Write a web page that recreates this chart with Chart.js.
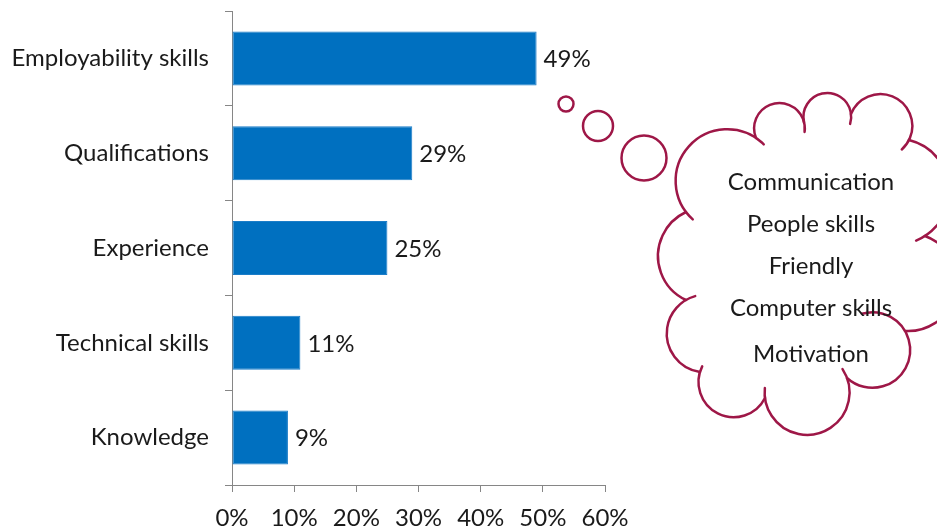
<!DOCTYPE html>
<html>
<head>
<meta charset="utf-8">
<script src="https://cdn.jsdelivr.net/npm/chart.js@4"></script>
<style>
  html, body { margin: 0; padding: 0; background: #fff; }
  canvas { display: block; }
</style>
</head>
<body>
<canvas id="skillsChart" width="937" height="531"></canvas>
<script>
// What employers look for
const categories = ["Employability skills", "Qualifications", "Experience", "Technical skills", "Knowledge"];
const shares = [49, 29, 25, 11, 9];
const tickValues = [0, 10, 20, 30, 40, 50, 60];
const thoughts = ["Communication", "People skills", "Friendly", "Computer skills", "Motivation"];

const fontFamily = "Lato";
const fontSize = 24;
const axisGrey = "#868686";
const textColor = "#1a1a1a";
const cloudColor = "#9e1747";

// cloud outline: junction points, how far each bump swells out,
// and how far each arc runs past its start / end (the little hooks)
const cloudPoints = [
  [686, 212], [756, 138], [804, 122], [851, 114], [909, 140], [925, 236],
  [905, 331], [847, 378], [765, 398], [700, 372], [686, 300]
];
const cloudBulge = [43, 27, 25, 33, 32, 42, 32, 47, 32, 26, 28];
const cloudHooks = [
  [10, 10], [0, 10], [0, 10], [0, 12], [0, 10], [0, 0],
  [50, 0], [10, 10], [0, 6], [0, 10], [0, 0]
];
const bubbles = [[566, 104, 7.5], [598, 126, 15], [644, 158, 22.5]];

function bump(ctx, a, b, h, extStart, extEnd) {
  const dx = b[0] - a[0], dy = b[1] - a[1], c = Math.hypot(dx, dy);
  const nx = dy / c, ny = -dx / c;
  const r = (c * c / 4 + h * h) / (2 * h);
  const cx = (a[0] + b[0]) / 2 + nx * (h - r);
  const cy = (a[1] + b[1]) / 2 + ny * (h - r);
  const a1 = Math.atan2(a[1] - cy, a[0] - cx);
  const a2 = Math.atan2(b[1] - cy, b[0] - cx);
  ctx.beginPath();
  ctx.arc(cx, cy, r, a1 - extStart / r, a2 + extEnd / r, false);
  ctx.stroke();
}

// percentage next to each bar
const valueLabels = {
  id: "valueLabels",
  afterDatasetsDraw(chart) {
    const ctx = chart.ctx;
    const meta = chart.getDatasetMeta(0);
    ctx.save();
    ctx.font = fontSize + "px " + fontFamily;
    ctx.fillStyle = textColor;
    ctx.textAlign = "left";
    ctx.textBaseline = "middle";
    meta.data.forEach((bar, i) => {
      ctx.fillText(shares[i] + "%", bar.x + 7, bar.y + 1);
    });
    ctx.restore();
  }
};

// thought cloud with the list of employability skills
const thoughtCloud = {
  id: "thoughtCloud",
  afterDraw(chart) {
    const ctx = chart.ctx;
    ctx.save();
    ctx.strokeStyle = cloudColor;
    ctx.lineWidth = 2.5;
    ctx.lineCap = "round";
    bubbles.forEach(([x, y, r]) => {
      ctx.beginPath();
      ctx.arc(x, y, r, 0, Math.PI * 2);
      ctx.stroke();
    });
    for (let i = 0; i < cloudPoints.length; i++) {
      const a = cloudPoints[i];
      const b = cloudPoints[(i + 1) % cloudPoints.length];
      bump(ctx, a, b, cloudBulge[i], cloudHooks[i][0], cloudHooks[i][1]);
    }
    ctx.font = fontSize + "px " + fontFamily;
    ctx.fillStyle = textColor;
    ctx.textAlign = "center";
    ctx.textBaseline = "middle";
    const lineY = [182, 224, 266, 308, 354];
    thoughts.forEach((t, i) => ctx.fillText(t, 811, lineY[i]));
    ctx.restore();
  }
};

Chart.defaults.font.family = fontFamily;
Chart.defaults.font.size = fontSize;
Chart.defaults.color = textColor;

let ctx = document.getElementById("skillsChart").getContext("2d");
let skillsChart = new Chart(ctx, {
  type: "bar",
  data: {
    labels: categories,
    datasets: [{
      data: shares,
      backgroundColor: "#0070c0",
      borderColor: "#1b7dc8",
      borderWidth: 1,
      borderSkipped: false,
      barPercentage: 0.57,
      categoryPercentage: 1
    }]
  },
  options: {
    indexAxis: "y",
    responsive: false,
    animation: false,
    layout: { padding: { top: 11, right: 332, left: 0, bottom: 0 } },
    plugins: { legend: { display: false }, tooltip: { enabled: false } },
    scales: {
      x: {
        min: 0,
        max: 60,
        afterBuildTicks(scale) {
          scale.ticks = tickValues.map(v => ({ value: v }));
        },
        ticks: { callback: v => v + "%", padding: 12, maxRotation: 0 },
        grid: { drawOnChartArea: false, tickLength: 7, color: axisGrey },
        border: { color: axisGrey },
        afterFit(scale) { scale.height = 46; }
      },
      y: {
        ticks: { padding: 16 },
        grid: { drawOnChartArea: false, tickLength: 7, color: axisGrey, offset: true },
        border: { color: axisGrey },
        afterFit(scale) {
          scale.width = 232;
          scale.paddingTop = 0;
          scale.paddingBottom = 0;
        }
      }
    }
  },
  plugins: [valueLabels, thoughtCloud]
});
</script>
</body>
</html>
